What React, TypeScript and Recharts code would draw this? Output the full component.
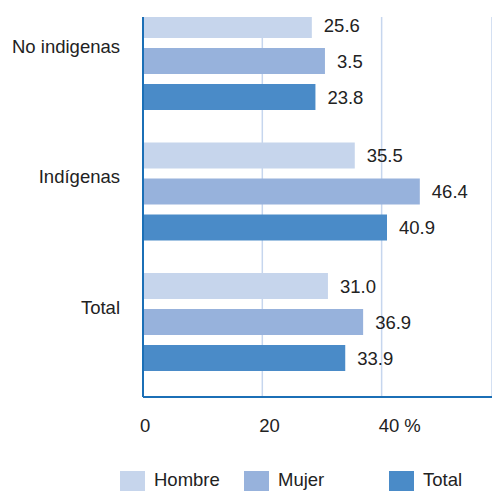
import { BarChart, Bar, XAxis, YAxis, CartesianGrid, LabelList, Legend } from 'recharts'

const categories = ['No indigenas', 'Indígenas', 'Total']
const hombre = [28.3, 35.5, 31.0]
const mujer = [30.5, 46.4, 36.9]
const total = [28.9, 40.9, 33.9]
// printed values as they appear in the source (first group does not match its bars)
const hombreLabels = ['25.6', '35.5', '31.0']
const mujerLabels = ['3.5', '46.4', '36.9']
const totalLabels = ['23.8', '40.9', '33.9']
const xTicks = [0, 20, 40]

const series = [
    { key: 'hombre', labelKey: 'hombreLabel', name: 'Hombre', color: '#c6d5ec' },
    { key: 'mujer', labelKey: 'mujerLabel', name: 'Mujer', color: '#97b2dc' },
    { key: 'total', labelKey: 'totalLabel', name: 'Total', color: '#4a8bc8' },
]

const data = categories.map((name, i) => ({
    name,
    hombre: hombre[i],
    mujer: mujer[i],
    total: total[i],
    hombreLabel: hombreLabels[i],
    mujerLabel: mujerLabels[i],
    totalLabel: totalLabels[i],
}))

const AXIS = '#1b6fb6'
const GRID = '#c6d6ee'
const TEXT = '#222'
const FONT = 18.5

// legend items are spaced unevenly in the source
const legendItemWidths = [124, 145, 100]

function LegendContent(props: any) {
    const items = props.payload || []
    return (
        <div style={{ display: 'flex', alignItems: 'flex-start' }}>
            {items.map((item: any, i: number) => (
                <div key={item.value} style={{ width: legendItemWidths[i], display: 'flex', alignItems: 'flex-start' }}>
                    <div style={{ width: 25, height: 26, background: item.color }} />
                    <span style={{ marginLeft: 9, fontSize: FONT, color: TEXT, lineHeight: '18px', marginTop: 0 }}>
                        {item.value}
                    </span>
                </div>
            ))}
        </div>
    )
}

export default function App() {
    return (
        <div
            style={{
                position: 'absolute',
                left: 0,
                top: 0,
                width: 492,
                height: 491,
                overflow: 'hidden',
                background: '#fff',
                fontFamily: '"Liberation Sans", Arial, sans-serif',
            }}
        >
            <div style={{ position: 'absolute', left: 0, top: 17, width: 492, height: 474, overflow: 'hidden' }}>
                <div style={{ position: 'absolute', left: 0, top: -21 }}>
                    <BarChart
                        width={492}
                        height={495}
                        data={data}
                        layout="vertical"
                        margin={{ top: 0, right: 0, bottom: 64, left: 0 }}
                        barGap={10}
                    >
                        <CartesianGrid horizontal={false} stroke={GRID} strokeWidth={1.5} />
                        <XAxis
                            type="number"
                            domain={[0, 58.5]}
                            ticks={xTicks}
                            tickFormatter={(v: number) => (v === 40 ? '40 %' : String(v))}
                            tick={{ fontSize: FONT, fill: TEXT, textAnchor: 'start', dx: -3 }}
                            tickLine={false}
                            tickSize={0}
                            tickMargin={22}
                            height={30}
                            axisLine={{ stroke: AXIS, strokeWidth: 2 }}
                        />
                        <YAxis
                            type="category"
                            dataKey="name"
                            width={143}
                            padding={{ top: 0, bottom: 9.5 }}
                            tick={{ fontSize: FONT, fill: TEXT, dy: -15 }}
                            tickLine={false}
                            tickSize={0}
                            tickMargin={23}
                            axisLine={{ stroke: AXIS, strokeWidth: 2 }}
                        />
                        {series.map(s => (
                            <Bar key={s.key} dataKey={s.key} name={s.name} fill={s.color} barSize={26} isAnimationActive={false}>
                                <LabelList dataKey={s.labelKey} position="right" offset={12} fontSize={FONT} fill={TEXT} />
                            </Bar>
                        ))}
                        <Legend
                            layout="horizontal"
                            verticalAlign="middle"
                            align="center"
                            wrapperStyle={{ top: 475, left: 120, width: 372, height: 26 }}
                            content={<LegendContent />}
                        />
                    </BarChart>
                </div>
            </div>
        </div>
    )
}
